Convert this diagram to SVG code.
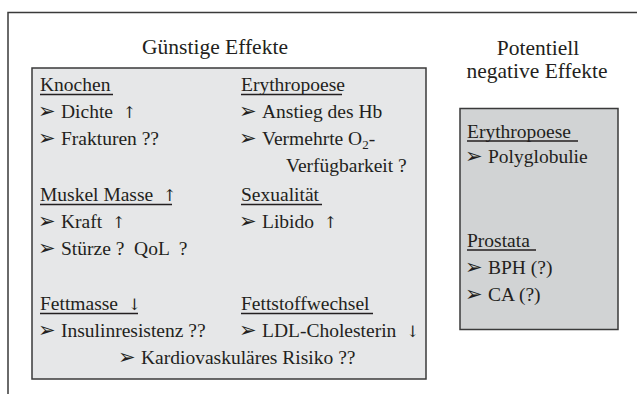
<svg xmlns="http://www.w3.org/2000/svg" width="637" height="394" viewBox="0 0 637 394">
<style>
  text { font-family: "Liberation Serif", "Times New Roman", serif; fill: #231f20; }
  .t { font-size: 19.5px; }
  .h { font-size: 21.5px; }
  .b { font-family: "DejaVu Sans", sans-serif; font-size: 21px; fill: #231f20; }
  .a { font-family: "DejaVu Serif", "DejaVu Sans", serif; font-size: 16px; fill: #231f20; }
  .u { stroke: #231f20; stroke-width: 1.3; }
  .frame { fill: none; stroke: #3a3a3a; stroke-width: 1.5; }
</style>
<rect width="637" height="394" fill="#ffffff"/>
<path class="frame" d="M637,12.5 H8 V394"/>
<g id="connectors"></g>
<g id="positive">
  <text class="h" x="215" y="54" text-anchor="middle">Günstige Effekte</text>
  <rect x="32" y="68" width="394" height="311" fill="#e6e7e8" stroke="#3a3a3a" stroke-width="1.5"/>
  <text class="t" x="40" y="91">Knochen</text>
  <line class="u" x1="40" y1="94.5" x2="113" y2="94.5"/>
  <text class="b" x="38" y="118">➢</text><text class="t" x="61" y="118" xml:space="preserve">Dichte  <tspan class="a">↑</tspan></text>
  <text class="b" x="38" y="145">➢</text><text class="t" x="61" y="145">Frakturen ??</text>
  <text class="t" x="40" y="201" xml:space="preserve">Muskel Masse  <tspan class="a">↑</tspan></text>
  <line class="u" x1="40" y1="204.5" x2="172" y2="204.5"/>
  <text class="b" x="38" y="228">➢</text><text class="t" x="61" y="228" xml:space="preserve">Kraft  <tspan class="a">↑</tspan></text>
  <text class="b" x="38" y="255">➢</text><text class="t" x="61" y="255" xml:space="preserve">Stürze ?  QoL  ?</text>
  <text class="t" x="40" y="310" xml:space="preserve">Fettmasse  <tspan class="a">↓</tspan></text>
  <line class="u" x1="40" y1="313.5" x2="138" y2="313.5"/>
  <text class="b" x="38" y="337">➢</text><text class="t" x="61" y="337">Insulinresistenz ??</text>
  <text class="t" x="241" y="91">Erythropoese</text>
  <line class="u" x1="241" y1="94.5" x2="342" y2="94.5"/>
  <text class="b" x="239" y="118">➢</text><text class="t" x="262" y="118">Anstieg des Hb</text>
  <text class="b" x="239" y="145">➢</text><text class="t" x="262" y="145">Vermehrte O<tspan font-size="13" dy="4">2</tspan><tspan dy="-4">-</tspan></text>
  <text class="t" x="286" y="172">Verfügbarkeit ?</text>
  <text class="t" x="241" y="201">Sexualität</text>
  <line class="u" x1="241" y1="204.5" x2="322" y2="204.5"/>
  <text class="b" x="239" y="228">➢</text><text class="t" x="262" y="228" xml:space="preserve">Libido  <tspan class="a">↑</tspan></text>
  <text class="t" x="241" y="310">Fettstoffwechsel</text>
  <line class="u" x1="241" y1="313.5" x2="373" y2="313.5"/>
  <text class="b" x="239" y="337">➢</text><text class="t" x="262" y="337" xml:space="preserve">LDL-Cholesterin  <tspan class="a">↓</tspan></text>
  <text class="b" x="118" y="364">➢</text><text class="t" x="141" y="364">Kardiovaskuläres Risiko ??</text>
</g>
<g id="negative">
  <text class="h" x="538" y="55" text-anchor="middle">Potentiell</text>
  <text class="h" x="537" y="78" text-anchor="middle">negative Effekte</text>
  <rect x="460" y="108.5" width="158" height="221" fill="#d1d3d4" stroke="#3a3a3a" stroke-width="1.5"/>
  <text class="t" x="467" y="137.5">Erythropoese</text>
  <line class="u" x1="467" y1="141" x2="578" y2="141"/>
  <text class="b" x="465" y="163">➢</text><text class="t" x="488" y="163">Polyglobulie</text>
  <text class="t" x="467" y="246.5">Prostata</text>
  <line class="u" x1="467" y1="250" x2="536" y2="250"/>
  <text class="b" x="465" y="274">➢</text><text class="t" x="488" y="274">BPH (?)</text>
  <text class="b" x="465" y="301">➢</text><text class="t" x="488" y="301">CA (?)</text>
</g>
</svg>
